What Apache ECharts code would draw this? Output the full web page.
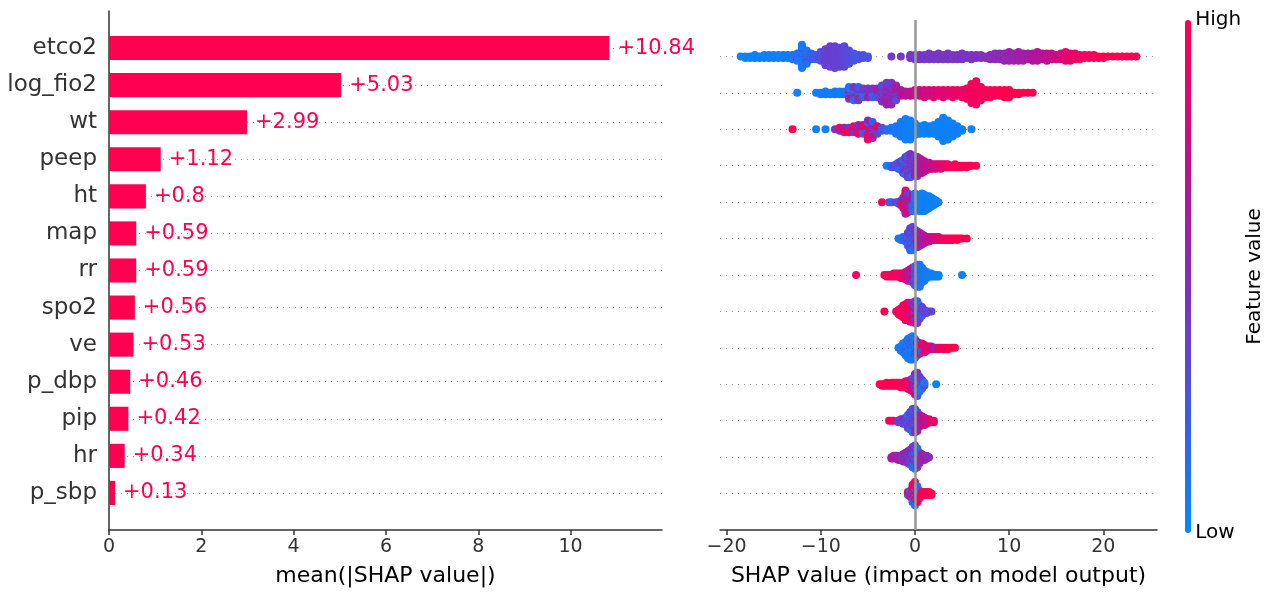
<!DOCTYPE html>
<html><head><meta charset="utf-8">
<script src="https://cdn.jsdelivr.net/npm/echarts@6/dist/echarts.min.js"></script>
<style>html,body{margin:0;padding:0;background:#fff}#c{width:1266px;height:592px}</style>
</head><body><div id="c"></div>
<script>
// ---- data ----
const features = ['etco2','log_fio2','wt','peep','ht','map','rr','spo2','ve','p_dbp','pip','hr','p_sbp'];
const meanAbsShap = [10.84,5.03,2.99,1.12,0.8,0.59,0.59,0.56,0.53,0.46,0.42,0.34,0.13];
const barTicks = [0,2,4,6,8,10];
const shapTicks = [-20,-10,0,10,20];
const colorbarTicks = [0,1];
// beeswarm rows: [shap value, number of points, feature value (0 low .. 1 high)]
const swarm_etco2 = [[-18.5,1,0.02],[-18,2,0.03],[-17.5,2,0.04],[-17,3,0.03],[-16.5,2,0.05],[-16,3,0.04],[-15.5,3,0.05],[-15,3,0.06],[-14.5,3,0.05],[-14,3,0.07],[-13.5,3,0.08],[-13,4,0.1],[-12.5,5,0.1],[-12.5,1,0.85],[-12,15,0.08],[-12,2,0.3],[-11.5,8,0.12],[-11.5,2,0.38],[-11,5,0.2],[-10.5,4,0.25],[-10,7,0.3],[-9.5,12,0.35],[-9,15,0.37],[-8.5,16,0.36],[-8,14,0.35],[-7.5,15,0.33],[-7,10,0.3],[-6.5,6,0.27],[-6,4,0.25],[-5.5,3,0.28],[-5,2,0.26],[-2.5,1,0.4],[-1.5,1,0.4],[-0.5,3,0.42],[0,4,0.41],[0.5,4,0.42],[1,4,0.42],[1.5,5,0.43],[2,4,0.42],[2.5,5,0.43],[3,4,0.43],[3.5,5,0.44],[4,4,0.43],[4.5,4,0.44],[5,5,0.45],[5.5,3,0.44],[6,4,0.45],[6.5,3,0.46],[7,3,0.47],[7.5,2,0.47],[8,4,0.48],[8.5,5,0.5],[9,5,0.51],[9.5,6,0.53],[10,7,0.55],[10.5,6,0.56],[11,7,0.58],[11.5,6,0.6],[12,5,0.62],[12.5,6,0.65],[13,7,0.67],[13.5,5,0.7],[14,6,0.72],[14.5,5,0.75],[15,4,0.78],[15.5,5,0.82],[16,7,0.86],[16.5,6,0.88],[17,5,0.9],[17.5,4,0.92],[18,3,0.95],[18.5,3,0.96],[19,3,0.97],[19.5,2,0.98],[20,2,1],[20.5,1,1],[21,1,1],[21.5,1,1],[22,1,1],[22.5,1,1],[23,1,1],[23.5,1,1]];
const swarm_log_fio2 = [[-12.5,1,0.05],[-10.5,1,0.06],[-10,2,0.05],[-9.5,3,0.08],[-9,2,0.06],[-8.5,3,0.1],[-8,3,0.08],[-7.5,3,0.12],[-7,6,0.12],[-7,2,0.5],[-7,1,0.9],[-6.5,5,0.15],[-6.5,3,0.45],[-6.5,2,0.85],[-6,4,0.2],[-6,4,0.45],[-6,2,0.9],[-5.5,4,0.4],[-5.5,3,0.15],[-5,4,0.42],[-5,2,0.6],[-5,1,0.1],[-4.5,4,0.45],[-4.5,3,0.2],[-4,5,0.55],[-4,2,0.3],[-3.5,8,0.5],[-3.5,4,0.3],[-3,10,0.6],[-3,6,0.4],[-2.5,9,0.55],[-2.5,7,0.42],[-2,8,0.6],[-2,3,0.3],[-1.5,4,0.65],[-1.5,1,0.2],[-1,4,0.7],[-0.5,4,0.72],[0,5,0.75],[0.5,5,0.78],[1,6,0.8],[1.5,5,0.8],[2,6,0.82],[2.5,5,0.85],[3,6,0.86],[3.5,5,0.88],[4,6,0.9],[4.5,5,0.9],[5,6,0.92],[5.5,8,0.93],[6,14,0.95],[6.5,17,0.96],[7,10,0.97],[7.5,6,0.97],[8,6,0.98],[8.5,5,0.98],[9,5,0.99],[9.5,6,1],[10,6,1],[10.5,2,1],[11,2,1],[11.5,1,1],[12,1,1],[12.5,1,1]];
const swarm_wt = [[-13,1,0.98],[-10.5,1,0.05],[-9.5,1,0.05],[-8.5,1,0.45],[-8,2,0.9],[-8,1,0.45],[-7.5,2,0.55],[-7.5,2,0.95],[-7,3,0.95],[-7,1,0.4],[-6.5,3,0.9],[-6.5,2,0.45],[-6,4,0.5],[-6,3,0.95],[-5.5,4,0.9],[-5.5,3,0.2],[-5,8,0.95],[-5,4,0.5],[-5,2,0.15],[-4.5,6,0.7],[-4.5,4,0.2],[-4.5,2,0.95],[-4,4,0.35],[-4,2,0.9],[-3.5,3,0.25],[-3,2,0.15],[-2.5,3,0.1],[-2,6,0.08],[-1.5,11,0.07],[-1,15,0.06],[-0.5,14,0.05],[0,9,0.05],[0.5,6,0.05],[1,7,0.05],[1.5,6,0.06],[2,7,0.05],[2.5,11,0.05],[3,17,0.05],[3.5,14,0.05],[4,10,0.05],[4.5,6,0.06],[5,2,0.05],[6,1,0.05]];
const swarm_peep = [[-3,1,0.05],[-2.5,2,0.15],[-2.25,2,0.35],[-2,3,0.2],[-1.75,5,0.3],[-1.5,5,0.35],[-1.5,2,0.1],[-1.25,7,0.4],[-1.25,3,0.15],[-1,9,0.42],[-1,4,0.15],[-0.75,10,0.4],[-0.75,6,0.2],[-0.5,11,0.45],[-0.5,6,0.25],[-0.25,10,0.5],[-0.25,5,0.2],[0,10,0.55],[0,4,0.3],[0.25,11,0.6],[0.25,3,0.4],[0.5,11,0.62],[0.75,10,0.65],[1,8,0.68],[1.25,6,0.7],[1.5,5,0.72],[1.75,4,0.75],[2,4,0.78],[2.25,4,0.8],[2.5,3,0.82],[2.75,4,0.85],[3,3,0.88],[3.25,3,0.9],[3.5,3,0.92],[3.75,2,0.95],[4,2,0.95],[4.25,3,0.95],[4.5,2,0.96],[4.75,2,0.97],[5,2,0.98],[5.25,1,0.98],[5.5,2,1],[5.75,1,1],[6,1,1],[6.5,1,1]];
const swarm_ht = [[-3.5,1,0.95],[-2.75,1,0.3],[-2.5,1,0.2],[-2,1,0.35],[-1.75,2,0.25],[-1.5,3,0.9],[-1.5,1,0.4],[-1.25,6,0.85],[-1.25,2,0.5],[-1,10,0.9],[-1,4,0.6],[-1,3,0.4],[-0.75,10,0.85],[-0.75,4,0.4],[-0.5,8,0.7],[-0.5,4,0.3],[-0.25,6,0.6],[-0.25,6,0.15],[0,11,0.08],[0,2,0.4],[0.25,11,0.05],[0.5,12,0.06],[0.75,13,0.05],[1,12,0.05],[1.25,10,0.06],[1.5,9,0.05],[1.75,7,0.05],[2,5,0.06],[2.25,3,0.05],[2.5,1,0.05]];
const swarm_map = [[-1.75,1,0.1],[-1.5,2,0.1],[-1.25,3,0.15],[-1,4,0.2],[-0.75,7,0.15],[-0.75,3,0.4],[-0.5,11,0.2],[-0.5,5,0.45],[-0.25,11,0.35],[-0.25,6,0.1],[0,8,0.45],[0,5,0.2],[0.25,9,0.55],[0.25,3,0.3],[0.5,10,0.6],[0.75,8,0.62],[1,6,0.65],[1.25,4,0.7],[1.5,4,0.75],[1.75,3,0.78],[2,3,0.8],[2.25,3,0.82],[2.5,3,0.85],[2.75,2,0.9],[3,2,0.92],[3.25,2,0.95],[3.5,2,0.95],[3.75,2,0.96],[4,2,0.97],[4.25,1,0.97],[4.5,2,0.98],[4.75,1,1],[5,1,1],[5.5,1,1]];
const swarm_rr = [[-6.25,1,0.95],[-3.25,1,0.98],[-3,2,0.95],[-2.75,2,0.95],[-2.5,2,0.96],[-2.25,3,0.95],[-2,3,0.95],[-1.75,3,0.93],[-1.5,4,0.92],[-1.25,4,0.9],[-1,5,0.88],[-1,1,0.6],[-0.75,6,0.85],[-0.75,2,0.6],[-0.5,6,0.8],[-0.5,3,0.5],[-0.25,7,0.7],[-0.25,4,0.4],[0,9,0.3],[0,5,0.15],[0.25,11,0.15],[0.25,5,0.35],[0.5,13,0.1],[0.5,3,0.35],[0.75,11,0.1],[1,8,0.08],[1.25,5,0.07],[1.5,3,0.06],[1.75,3,0.05],[2,2,0.05],[2.25,2,0.05],[2.5,2,0.05],[5,1,0.05]];
const swarm_spo2 = [[-3.25,1,0.98],[-2,1,0.95],[-1.75,4,0.95],[-1.5,6,0.96],[-1.25,9,0.95],[-1,12,0.95],[-0.75,13,0.94],[-0.5,13,0.92],[-0.5,1,0.5],[-0.25,10,0.85],[-0.25,4,0.45],[0,6,0.45],[0,6,0.7],[0,4,0.15],[0.25,7,0.4],[0.25,5,0.2],[0.25,4,0.9],[0.5,6,0.35],[0.5,4,0.1],[0.75,5,0.35],[0.75,2,0.2],[1,3,0.35],[1.25,2,0.35],[1.5,1,0.3],[1.75,1,0.35]];
const swarm_ve = [[-1.75,1,0.05],[-1.5,4,0.1],[-1.25,7,0.08],[-1,9,0.1],[-1,1,0.4],[-0.75,12,0.08],[-0.75,2,0.3],[-0.5,14,0.1],[-0.5,2,0.35],[-0.25,14,0.07],[-0.25,3,0.4],[0,11,0.08],[0,3,0.5],[0.25,6,0.1],[0.25,4,0.85],[0.5,4,0.15],[0.5,4,0.9],[0.75,3,0.2],[0.75,4,0.9],[1,5,0.85],[1,1,0.3],[1.25,4,0.88],[1.5,3,0.85],[1.75,3,0.8],[2,2,0.85],[2.25,2,0.5],[2.5,2,0.9],[2.75,1,0.95],[3,2,0.95],[3.25,1,0.95],[3.5,2,0.98],[3.75,1,1],[4,1,1],[4.25,1,1]];
const swarm_p_dbp = [[-3.75,1,1],[-3.5,2,1],[-3.25,2,1],[-3,3,1],[-2.75,2,1],[-2.5,3,0.98],[-2.25,3,1],[-2,3,0.98],[-1.75,3,0.97],[-1.5,4,0.98],[-1.25,4,0.96],[-1,5,0.95],[-0.75,6,0.95],[-0.5,7,0.92],[-0.5,1,0.2],[-0.25,7,0.85],[-0.25,3,0.3],[0,7,0.4],[0,5,0.7],[0,3,0.15],[0.25,9,0.45],[0.25,5,0.25],[0.25,3,0.1],[0.5,7,0.4],[0.5,4,0.15],[0.75,4,0.35],[0.75,3,0.1],[1,2,0.1],[1,1,0.4],[2.25,1,0.05]];
const swarm_pip = [[-2.75,1,0.95],[-2.5,1,0.95],[-2.25,1,0.9],[-1.75,2,0.3],[-1.5,3,0.35],[-1.25,3,0.3],[-1.25,1,0.6],[-1,4,0.35],[-1,1,0.15],[-0.75,7,0.35],[-0.75,3,0.1],[-0.5,9,0.4],[-0.5,4,0.15],[-0.25,10,0.3],[-0.25,4,0.1],[-0.25,3,0.6],[0,9,0.35],[0,5,0.55],[0,3,0.1],[0.25,10,0.55],[0.25,4,0.2],[0.5,8,0.6],[0.5,1,0.9],[0.75,7,0.65],[1,5,0.7],[1,1,0.95],[1.25,4,0.75],[1.5,3,0.8],[1.75,2,0.95],[2,2,0.9]];
const swarm_hr = [[-2.5,2,0.6],[-2.25,3,0.65],[-2,3,0.6],[-1.75,4,0.55],[-1.5,4,0.6],[-1.25,5,0.5],[-1.25,1,0.3],[-1,6,0.55],[-1,1,0.2],[-0.75,7,0.5],[-0.75,2,0.25],[-0.5,8,0.5],[-0.5,3,0.3],[-0.25,9,0.45],[-0.25,6,0.15],[0,8,0.35],[0,7,0.1],[0,2,0.6],[0.25,8,0.4],[0.25,6,0.15],[0.5,6,0.5],[0.5,2,0.2],[0.75,4,0.55],[0.75,1,0.3],[1,4,0.6],[1.25,3,0.55],[1.5,1,0.5]];
const swarm_p_sbp = [[-0.75,2,0.9],[-0.75,1,0.1],[-0.5,3,0.2],[-0.5,2,0.9],[-0.25,8,0.9],[-0.25,5,0.15],[0,9,0.95],[0,5,0.1],[0,3,0.7],[0.25,8,0.9],[0.25,4,0.15],[0.5,4,0.95],[0.5,2,0.2],[0.75,3,0.95],[1,3,0.98],[1.25,3,0.95],[1.5,3,1],[1.75,2,1]];
const swarmRows = [swarm_etco2,swarm_log_fio2,swarm_wt,swarm_peep,swarm_ht,swarm_map,swarm_rr,swarm_spo2,swarm_ve,swarm_p_dbp,swarm_pip,swarm_hr,swarm_p_sbp];

// ---- beeswarm stacking (layout only) ----
function layoutRow(row, r) {
  const groups = new Map();
  row.forEach(([x, n, c]) => { if (!groups.has(x)) groups.set(x, []); groups.get(x).push([n, c]); });
  const stacks = []; let maxL = 0;
  groups.forEach((entries, x) => {
    const seq = [];
    entries.forEach(([n, c]) => { for (let j = 0; j < n; j++) seq.push([(j + 0.5) / n, c]); });
    seq.sort((a, b) => a[0] - b[0]);
    stacks.push([x, seq.map(s => s[1])]);
    maxL = Math.max(maxL, Math.ceil((seq.length - 1) / 2));
  });
  const step = 0.36 / (maxL + 1);
  const pts = [];
  stacks.forEach(([x, cols]) => cols.forEach((c, layer) => {
    const off = Math.ceil(layer / 2) * (layer % 2 ? 1 : -1) * step;
    pts.push([x, r + off, c]);
  }));
  return pts;
}
const swarmPoints = [];
swarmRows.forEach((row, r) => layoutRow(row, r).forEach(p => swarmPoints.push(p)));

const FONT = '"DejaVu Sans", sans-serif';
const fmtVal = v => '+' + parseFloat(v.toFixed(2));
const fmtTick = v => v < 0 ? '\u2212' + (-v) : String(v);

const chart = echarts.init(document.getElementById('c'), null, {renderer: 'canvas'});
chart.setOption({
  animation: false,
  textStyle: {fontFamily: FONT},
  grid: [
    {left: 109, right: 604, top: 11, bottom: 60},
    {left: 720, right: 109, top: 20, bottom: 59},
    {left: 1185, width: 6, top: 20, bottom: 59}
  ],
  xAxis: [
    {gridIndex: 0, type: 'value', min: 0, max: 11.98,
     axisLine: {show: true, onZero: false, lineStyle: {color: '#333', width: 1.5}},
     axisTick: {show: true, customValues: barTicks, length: 5, lineStyle: {color: '#333', width: 1.5}},
     axisLabel: {customValues: barTicks, fontSize: 19, color: '#333', margin: 8, fontFamily: FONT},
     splitLine: {show: false},
     name: 'mean(|SHAP value|)', nameLocation: 'middle', nameGap: 35,
     nameTextStyle: {fontSize: 22, color: '#000', fontFamily: FONT}},
    {gridIndex: 1, type: 'value', min: -20.7, max: 25.7,
     axisLine: {show: true, onZero: false, lineStyle: {color: '#333', width: 1.5}},
     axisTick: {show: true, customValues: shapTicks, length: 5, lineStyle: {color: '#333', width: 1.5}},
     axisLabel: {customValues: shapTicks, formatter: fmtTick, fontSize: 19, color: '#333', margin: 8, fontFamily: FONT},
     splitLine: {show: false},
     name: 'SHAP value (impact on model output)', nameLocation: 'middle', nameGap: 35,
     nameTextStyle: {fontSize: 22, color: '#000', fontFamily: FONT}},
    {gridIndex: 2, type: 'value', min: 0, max: 1, show: false}
  ],
  yAxis: [
    {gridIndex: 0, type: 'value', inverse: true, min: -1, max: 13, interval: 1,
     axisLine: {show: true, onZero: false, lineStyle: {color: '#333', width: 1.5}},
     axisTick: {show: false},
     axisLabel: {formatter: v => features[v] || '', fontSize: 23, color: '#333', margin: 12, fontFamily: FONT},
     splitLine: {show: true, showMinLine: false, showMaxLine: false, lineStyle: {color: '#999', type: [1, 5], width: 1}}},
    {gridIndex: 1, type: 'value', inverse: true, min: -1, max: 13, interval: 1,
     axisLine: {show: false}, axisTick: {show: false}, axisLabel: {show: false},
     splitLine: {show: true, showMinLine: false, showMaxLine: false, lineStyle: {color: '#999', type: [1, 5], width: 1}}},
    {gridIndex: 2, type: 'value', min: 0, max: 1, position: 'right',
     axisLine: {show: false}, axisTick: {show: false}, splitLine: {show: false},
     axisLabel: {customValues: colorbarTicks, formatter: v => v >= 1 ? 'High' : 'Low', fontSize: 20, color: '#000', margin: 6, fontFamily: FONT},
     name: 'Feature value', nameLocation: 'middle', nameRotate: 90, nameGap: 48,
     nameTextStyle: {fontSize: 20, color: '#000', fontFamily: FONT}}
  ],
  visualMap: {
    type: 'continuous', seriesIndex: 2, dimension: 2, min: 0, max: 1,
    left: 1185, top: 20, itemWidth: 6, itemHeight: 513, padding: 0,
    calculable: false, hoverLink: false,
    inRange: {color: ['#008bfb','#2e66f0','#5e45d8','#8a2bb8','#b2159a','#da0878','#ff0051']}
  },
  series: [
    {type: 'custom', xAxisIndex: 0, yAxisIndex: 0,
     data: meanAbsShap.map((v, i) => [v, i]),
     renderItem: (params, api) => {
       const v = api.value(0), r = api.value(1);
       const p0 = api.coord([0, r]), p1 = api.coord([v, r]);
       const h = Math.abs(api.size([0, 0.65])[1]);
       return {type: 'group', children: [
         {type: 'rect', shape: {x: p0[0], y: p0[1] - h / 2, width: p1[0] - p0[0], height: h}, style: {fill: '#ff0051'}},
         {type: 'text', x: p1[0] + 8, y: p1[1], style: {text: fmtVal(v), fill: '#ff0051', font: '21px ' + FONT, verticalAlign: 'middle', align: 'left'}}
       ]};
     }},
    {type: 'scatter', xAxisIndex: 1, yAxisIndex: 1, data: [], z: 1,
     markLine: {silent: true, symbol: 'none', label: {show: false},
       lineStyle: {color: '#999', width: 2.5, type: 'solid'}, data: [{xAxis: 0}]}},
    {type: 'scatter', xAxisIndex: 1, yAxisIndex: 1, data: swarmPoints, z: 3,
     symbolSize: 8, itemStyle: {opacity: 1}}
  ]
});
</script>
</body></html>
